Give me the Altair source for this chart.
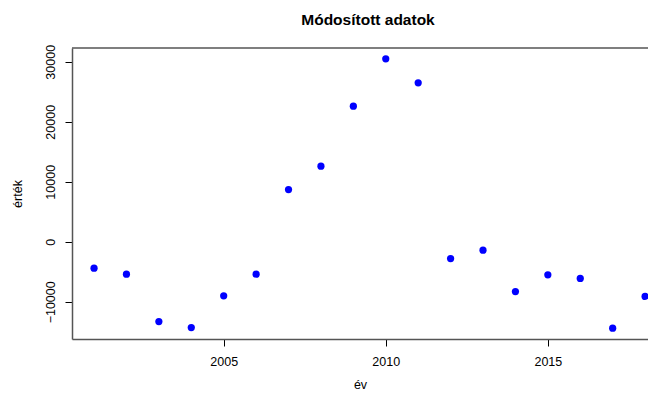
import altair as alt
import pandas as pd

years = list(range(2001, 2019))
values = [-4400, -5400, -13300, -14300, -9000, -5400, 8700, 12600, 22600,
          30500, 26500, -2800, -1400, -8300, -5500, -6100, -14400, -9100]

x_ticks = [2005, 2010, 2015]
y_ticks = [-10000, 0, 10000, 20000, 30000]
x_domain = [2000.32, 2018.09]
y_domain = [-16200, 32300]

df = pd.DataFrame({"év": years, "érték": values})

FONT = "Liberation Sans"
FRAME = "#555555"

xscale = alt.Scale(domain=x_domain, nice=False, zero=False)
yscale = alt.Scale(domain=y_domain, nice=False, zero=False)

points = alt.Chart(df).mark_circle(size=52, color="#0000FF", opacity=1).encode(
    x=alt.X("év:Q", scale=xscale,
            axis=alt.Axis(values=x_ticks, format="d", title="év", tickSize=7,
                          labelPadding=9, titlePadding=11, domainColor=FRAME,
                          domainWidth=1.5)),
    y=alt.Y("érték:Q", scale=yscale,
            axis=alt.Axis(values=y_ticks, format="d", title="érték", tickSize=7,
                          labelAngle=270, labelAlign="center", labelBaseline="bottom",
                          labelPadding=8, titlePadding=20, domainColor=FRAME,
                          domainWidth=1.5)),
)

top = alt.Chart(pd.DataFrame({"top": [y_domain[1]]})).mark_rule(
    color=FRAME, strokeWidth=1.5
).encode(y=alt.Y("top:Q", scale=yscale))

chart = alt.layer(points, top).properties(
    width=576,
    height=291,
    autosize=alt.AutoSizeParams(type="none"),
    padding={"left": 64, "top": 40, "right": 0, "bottom": 54},
    title=alt.TitleParams("Módosított adatok", font=FONT, fontSize=15.5,
                          fontWeight="bold", color="black", anchor="middle",
                          baseline="alphabetic", offset=4, dx=8),
).configure_view(stroke=None).configure_axis(
    grid=False, labelFont=FONT, titleFont=FONT, labelFontSize=12.5,
    titleFontSize=12.5, labelColor="black", titleColor="black",
    titleFontWeight="normal", tickColor="black", tickWidth=1
)

chart.save("out.html", embed_options={"renderer": "svg", "actions": False})
